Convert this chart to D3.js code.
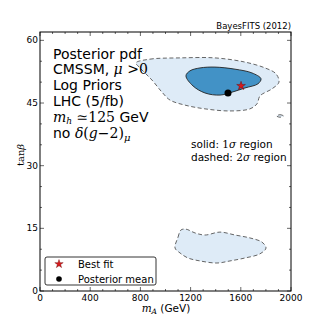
<!DOCTYPE html>
<html>
<head>
<meta charset="utf-8">
<script src="https://cdn.jsdelivr.net/npm/d3@7"></script>
<style>
  body { margin: 0; background: #fff; }
  text { font-family: "DejaVu Sans", sans-serif; }
  .m { font-family: "DejaVu Serif", serif; font-style: italic; }
  .r { font-family: "DejaVu Serif", serif; }
</style>
</head>
<body>
<svg width="324" height="324"></svg>
<script>
// contours, (mA GeV, tanb)
const outer2s = [[765,54.6],[876,55.5],[1116,55.8],[1394,55.8],[1633,54.8],[1793,53.4],[1880,52.0],[1904,50.0],
  [1849,48.4],[1753,46.7],[1729,44.8],[1673,43.6],[1514,43.1],[1315,43.6],[1155,44.5],[1036,45.7],[972,47.6],[892,50.5],[797,53.4]];
const inner1s = [[1163,51.5],[1195,52.7],[1275,53.4],[1394,53.6],[1554,53.1],[1689,52.2],[1761,50.8],[1737,49.6],
  [1633,48.6],[1530,47.6],[1434,46.9],[1315,47.4],[1219,49.1]];
const lower2s = [[1076,10.3],[1100,12.9],[1123,14.6],[1163,14.8],[1235,13.9],[1315,13.4],[1434,14.1],[1554,13.4],
  [1673,12.7],[1769,11.7],[1801,10.3],[1753,8.9],[1633,7.9],[1514,7.2],[1410,6.7],[1275,7.2],[1179,7.9],[1116,9.1]];
const tiny2s = [[1885,41.9],[1912,42.2],[1940,41.9],[1912,41.6]];
const bestFit = [1602, 49.1];
const postMean = [1498, 47.4];
const xTicks = [0, 400, 800, 1200, 1600, 2000];
const yTicks = [0, 15, 30, 45, 60];

const svg = d3.select('svg');
const pL = 40, pR = 291, pT = 32, pB = 291;
const x = d3.scaleLinear().domain([0, 2000]).range([pL, pR]);
const y = d3.scaleLinear().domain([0, 62]).range([pB, pT]);

const line = d3.line().x(d => x(d[0])).y(d => y(d[1])).curve(d3.curveCatmullRomClosed);

const g = svg.append('g');
[outer2s, lower2s, tiny2s].forEach(c => {
  g.append('path').attr('d', line(c)).attr('fill', '#deebf7')
    .attr('stroke', '#555').attr('stroke-width', 0.9).attr('stroke-dasharray', '4,2.5');
});
g.append('path').attr('d', line(inner1s)).attr('fill', '#4292c6')
  .attr('stroke', '#222').attr('stroke-width', 0.9);

const star = d3.symbol().type(d3.symbolStar);
g.append('path').attr('d', star.size(24)()).attr('transform', `translate(${x(bestFit[0])},${y(bestFit[1])})`)
  .attr('fill', '#d7191c').attr('stroke', '#600').attr('stroke-width', 0.4);
g.append('circle').attr('cx', x(postMean[0])).attr('cy', y(postMean[1])).attr('r', 3.5).attr('fill', '#000');

// axes
const ax = svg.append('g');
function ticks(axis, scale, vals, len) {
  vals.forEach(v => {
    const p = scale(v);
    if (axis === 'x') {
      ax.append('line').attr('x1', p).attr('x2', p).attr('y1', pB).attr('y2', pB - len).attr('stroke', '#000').attr('stroke-width', 0.6);
      ax.append('line').attr('x1', p).attr('x2', p).attr('y1', pT).attr('y2', pT + len).attr('stroke', '#000').attr('stroke-width', 0.6);
    } else {
      ax.append('line').attr('y1', p).attr('y2', p).attr('x1', pL).attr('x2', pL + len).attr('stroke', '#000').attr('stroke-width', 0.6);
      ax.append('line').attr('y1', p).attr('y2', p).attr('x1', pR).attr('x2', pR - len).attr('stroke', '#000').attr('stroke-width', 0.6);
    }
  });
}
ticks('x', x, xTicks, 4);
ticks('x', x, d3.range(100, 2000, 100).filter(v => v % 400), 2);
ticks('y', y, yTicks, 4);
ticks('y', y, d3.range(5, 62, 5).filter(v => v % 15), 2);

ax.append('rect').attr('x', pL).attr('y', pT).attr('width', pR - pL).attr('height', pB - pT)
  .attr('fill', 'none').attr('stroke', '#000').attr('stroke-width', 1);

ax.selectAll('.xl').data(xTicks).join('text').attr('x', d => x(d)).attr('y', pB + 10)
  .attr('text-anchor', 'middle').attr('font-size', 9).text(d => d);
ax.selectAll('.yl').data(yTicks).join('text').attr('x', pL - 2).attr('y', d => y(d) + 3)
  .attr('text-anchor', 'end').attr('font-size', 9).text(d => d);

// axis labels
const xl = svg.append('text').attr('x', 166).attr('y', 312).attr('text-anchor', 'middle').attr('font-size', 10.5);
xl.append('tspan').attr('class', 'm').text('m');
xl.append('tspan').attr('class', 'm').attr('font-size', 7.5).attr('dy', 2).text('A');
xl.append('tspan').attr('dy', -2).text(' (GeV)');
const yl = svg.append('text').attr('transform', 'translate(24,155) rotate(-90)').attr('text-anchor', 'middle').attr('font-size', 10);
yl.append('tspan').attr('class', 'r').text('tan');
yl.append('tspan').attr('class', 'm').text('β');

svg.append('text').attr('x', 291).attr('y', 29).attr('text-anchor', 'end').attr('font-size', 8.5).text('BayesFITS (2012)');

// annotation block
const fs = 14, lh = 15.9, x0 = 53, y0 = 58.5;
const t = svg.append('g').attr('font-size', fs);
t.append('text').attr('x', x0).attr('y', y0).text('Posterior pdf');
const t2 = t.append('text').attr('x', x0).attr('y', y0 + lh);
t2.append('tspan').text('CMSSM, ');
t2.append('tspan').attr('class', 'm').text('μ');
t2.append('tspan').attr('class', 'r').text(' >0');
t.append('text').attr('x', x0).attr('y', y0 + 2 * lh).text('Log Priors');
t.append('text').attr('x', x0).attr('y', y0 + 3 * lh).text('LHC (5/fb)');
const t5 = t.append('text').attr('x', x0).attr('y', y0 + 4 * lh);
t5.append('tspan').attr('class', 'm').text('m');
t5.append('tspan').attr('class', 'm').attr('font-size', 9).attr('dy', 2).text('h');
t5.append('tspan').attr('class', 'r').attr('dy', -2).text(' ≃125');
t5.append('tspan').text(' GeV');
const t6 = t.append('text').attr('x', x0).attr('y', y0 + 5 * lh);
t6.append('tspan').text('no ');
t6.append('tspan').attr('class', 'm').text('δ');
t6.append('tspan').attr('class', 'r').text('(');
t6.append('tspan').attr('class', 'm').text('g');
t6.append('tspan').attr('class', 'r').text('−2)');
t6.append('tspan').attr('class', 'm').attr('font-size', 10).attr('dy', 3).text('μ');

const s = svg.append('g').attr('font-size', 10.5);
const s1 = s.append('text').attr('x', 191).attr('y', 148);
s1.append('tspan').text('solid: ');
s1.append('tspan').attr('class', 'r').text('1');
s1.append('tspan').attr('class', 'm').text('σ');
s1.append('tspan').text(' region');
const s2 = s.append('text').attr('x', 191).attr('y', 161);
s2.append('tspan').text('dashed: ');
s2.append('tspan').attr('class', 'r').text('2');
s2.append('tspan').attr('class', 'm').text('σ');
s2.append('tspan').text(' region');

// legend
const lg = svg.append('g');
lg.append('rect').attr('x', 45).attr('y', 257).attr('width', 111).attr('height', 28).attr('rx', 2)
  .attr('fill', '#fff').attr('stroke', '#000').attr('stroke-width', 0.8);
lg.append('path').attr('d', star.size(22)()).attr('transform', 'translate(59,264)').attr('fill', '#d7191c').attr('stroke', '#600').attr('stroke-width', 0.4);
lg.append('circle').attr('cx', 59).attr('cy', 279).attr('r', 2.8).attr('fill', '#000');
lg.append('text').attr('x', 78).attr('y', 268).attr('font-size', 10).text('Best fit');
lg.append('text').attr('x', 78).attr('y', 283).attr('font-size', 10).text('Posterior mean');
</script>
</body>
</html>
